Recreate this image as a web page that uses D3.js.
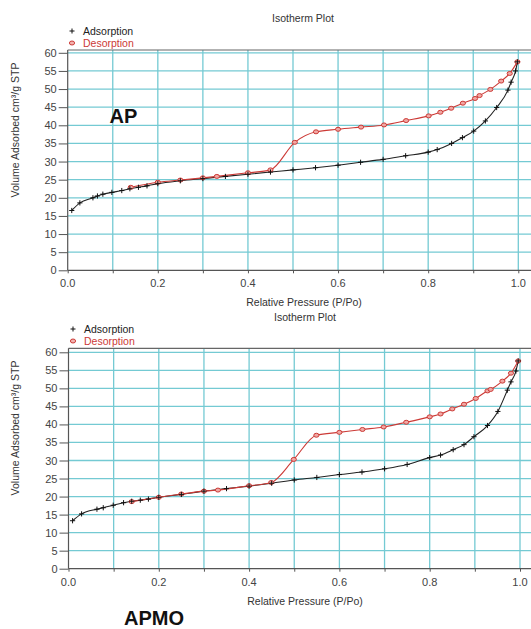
<!DOCTYPE html>
<html><head><meta charset="utf-8">
<script src="https://cdn.jsdelivr.net/npm/d3@7"></script>
<style>body{margin:0;background:#fff}svg{display:block}text{font-family:"Liberation Sans",Arial,sans-serif}</style>
</head><body>
<script>
// ---- data ----
const apAdsX = [0.009,0.027,0.056,0.066,0.078,0.098,0.12,0.138,0.157,0.176,0.2,0.25,0.3,0.35,0.4,0.45,0.5,0.55,0.6,0.65,0.7,0.75,0.8,0.82,0.852,0.876,0.901,0.927,0.952,0.977,0.984,0.994,0.998];
const apAdsY = [16.5,18.6,20.0,20.5,21.0,21.5,22.0,22.5,22.9,23.3,23.9,24.7,25.3,25.9,26.5,27.1,27.7,28.3,29.0,29.8,30.6,31.6,32.6,33.3,35.0,36.6,38.4,41.2,44.9,49.7,51.9,55.0,57.5];
const apDesX = [0.998,0.981,0.962,0.938,0.914,0.904,0.877,0.851,0.827,0.801,0.751,0.702,0.651,0.6,0.551,0.504,0.45,0.4,0.331,0.3,0.25,0.2,0.14];
const apDesY = [57.5,54.3,52.2,49.9,48.2,47.4,46.1,44.7,43.6,42.6,41.3,40.1,39.5,38.9,38.2,35.3,27.7,26.9,25.9,25.5,24.9,24.3,22.9];
const apmoAdsX = [0.009,0.029,0.063,0.077,0.099,0.122,0.14,0.159,0.177,0.2,0.25,0.3,0.35,0.4,0.45,0.5,0.55,0.6,0.65,0.7,0.75,0.8,0.824,0.852,0.876,0.898,0.928,0.951,0.972,0.98,0.991,0.996];
const apmoAdsY = [13.3,15.2,16.5,16.9,17.6,18.3,18.7,19.0,19.3,19.8,20.6,21.5,22.2,22.9,23.7,24.6,25.3,26.1,26.8,27.7,28.9,30.8,31.5,33.0,34.4,36.6,39.7,43.6,49.5,51.8,54.8,57.6];
const apmoDesX = [0.996,0.98,0.961,0.935,0.928,0.902,0.876,0.85,0.824,0.8,0.748,0.698,0.651,0.6,0.549,0.499,0.449,0.4,0.331,0.3,0.25,0.2,0.14];
const apmoDesY = [57.6,54.2,52.0,49.7,49.3,47.2,45.6,44.3,42.9,42.1,40.6,39.3,38.6,37.8,37.0,30.3,23.9,23.0,21.8,21.5,20.7,19.8,18.6];
const yTicks = [0,5,10,15,20,25,30,35,40,45,50,55,60];
const xMajor = [0,0.2,0.4,0.6,0.8,1.0];
const xGrid = [0.1,0.2,0.3,0.4,0.5,0.6,0.7,0.8,0.9,1.0];
const seriesNames = ["Adsorption","Desorption"];
const titleText = "Isotherm Plot";
const xLabel = "Relative Pressure (P/Po)";
const yLabel = "Volume Adsorbed cm³/g STP";

const W = 531, H = 629;
const svg = d3.select("body").append("svg").attr("width", W).attr("height", H);
const GRID = "#74cad3", AXIS = "#555", RED = "#cc3a36";

function zip(xs, ys){ return xs.map((x,i)=>({x, y: ys[i]})); }

function chart(cfg){
  const g = svg.append("g");
  const x = d3.scaleLinear().domain([0,1]).range([cfg.x0, cfg.x1]);
  const y = d3.scaleLinear().domain([0,60]).range([cfg.y0, cfg.y60]);
  const right = W + 5;
  // gridlines
  g.selectAll(".hg").data(yTicks.slice(1)).join("line")
    .attr("x1", cfg.x0).attr("x2", right).attr("y1", d=>y(d)).attr("y2", d=>y(d))
    .attr("stroke", GRID).attr("stroke-width", 1.3);
  g.selectAll(".vg").data(xGrid).join("line")
    .attr("x1", d=>x(d)).attr("x2", d=>x(d)).attr("y1", cfg.top).attr("y2", cfg.y0)
    .attr("stroke", GRID).attr("stroke-width", 1.3);
  // top border
  g.append("line").attr("x1", cfg.x0).attr("x2", right).attr("y1", cfg.top).attr("y2", cfg.top)
    .attr("stroke", "#666").attr("stroke-width", 1.2);
  // y axis
  const ya = d3.axisLeft(y).tickValues(yTicks).tickSize(9).tickPadding(2).tickFormat(d3.format("d"));
  const yg = g.append("g").attr("transform", `translate(${cfg.x0},0)`).call(ya);
  yg.select(".domain").attr("d", `M0,${cfg.y0}V${cfg.top}`).attr("stroke", AXIS).attr("stroke-width", 1.2);
  yg.selectAll(".tick line").attr("stroke", AXIS);
  yg.selectAll(".tick text").attr("font-size", 11).attr("fill", "#444").attr("font-family", "Liberation Sans, Arial");
  // x axis
  const xa = d3.axisBottom(x).tickValues(xGrid.concat([0])).tickSize(3).tickFormat(()=>"");
  const xg = g.append("g").attr("transform", `translate(0,${cfg.y0})`).call(xa);
  xg.select(".domain").attr("d", `M${cfg.x0},0H${right}`).attr("stroke", AXIS).attr("stroke-width", 1.2);
  xg.selectAll(".tick line").attr("stroke", AXIS);
  g.selectAll(".xl").data(xMajor).join("text")
    .attr("x", d=>x(d)).attr("y", cfg.y0 + 17).attr("text-anchor", "middle")
    .attr("font-size", 11).attr("fill", "#444").text(d3.format(".1f"));
  // labels
  g.append("text").attr("x", cfg.xlabX).attr("y", cfg.y0 + 36).attr("text-anchor", "middle")
    .attr("font-size", 10.5).attr("fill", "#333").text(xLabel);
  g.append("text").attr("x", cfg.titleX).attr("y", cfg.titleY).attr("text-anchor", "middle")
    .attr("font-size", 10.5).attr("fill", "#333").text(titleText);
  g.append("text").attr("transform", `translate(19,${cfg.ylabY}) rotate(-90)`).attr("text-anchor", "middle")
    .attr("font-size", 10.5).attr("fill", "#333").text(yLabel);
  // legend
  const lg = g.append("g");
  const cross = (sel, cx, cy, s) => {
    sel.append("path").attr("d", `M${cx-s},${cy}H${cx+s}M${cx},${cy-s}V${cy+s}`).attr("stroke", "#111").attr("stroke-width", 1);
  };
  cross(lg, cfg.legX, cfg.legY - 4, 2.5);
  lg.append("text").attr("x", cfg.legX + 11).attr("y", cfg.legY).attr("font-size", 10.5).attr("fill", "#222").text(seriesNames[0]);
  lg.append("ellipse").attr("cx", cfg.legX).attr("cy", cfg.legY + 12 - 4).attr("rx", 2.6).attr("ry", 2)
    .attr("fill", "#f3b3b0").attr("stroke", RED).attr("stroke-width", 1);
  lg.append("text").attr("x", cfg.legX + 11).attr("y", cfg.legY + 12).attr("font-size", 10.5).attr("fill", RED).text(seriesNames[1]);
  // series
  const line = d3.line().x(d=>x(d.x)).y(d=>y(d.y)).curve(d3.curveMonotoneX);
  const ads = zip(cfg.adsX, cfg.adsY).sort((a,b)=>a.x-b.x);
  const des = zip(cfg.desX, cfg.desY).sort((a,b)=>a.x-b.x);
  g.append("path").datum(ads).attr("d", line).attr("fill", "none").attr("stroke", "#222").attr("stroke-width", 1.1);
  g.append("path").datum(des).attr("d", line).attr("fill", "none").attr("stroke", RED).attr("stroke-width", 1.1);
  g.selectAll(".dm").data(des).join("ellipse")
    .attr("cx", d=>x(d.x)).attr("cy", d=>y(d.y)).attr("rx", 2.6).attr("ry", 2.0)
    .attr("fill", "#f0a8a4").attr("stroke", RED).attr("stroke-width", 1);
  g.selectAll(".am").data(ads).join("path")
    .attr("d", d=>{const cx=x(d.x), cy=y(d.y), s=2.6; return `M${cx-s},${cy}H${cx+s}M${cx},${cy-s}V${cy+s}`;})
    .attr("stroke", "#111").attr("stroke-width", 1);
  // big label
  g.append("text").attr("x", cfg.tagX).attr("y", cfg.tagY).attr("text-anchor", "middle")
    .attr("font-size", 20).attr("font-weight", "bold").attr("fill", "#111").text(cfg.tag);
}

chart({x0:67.7, x1:518.3, y0:270.3, y60:52.8, top:50,
  xlabX:304, titleX:303, titleY:22, ylabY:130, legX:72, legY:35,
  adsX:apAdsX, adsY:apAdsY, desX:apDesX, desY:apDesY, tag:"AP", tagX:123.5, tagY:123});
chart({x0:68.5, x1:520, y0:568.7, y60:352.3, top:348.3,
  xlabX:305, titleX:305, titleY:320.5, ylabY:428, legX:73, legY:333,
  adsX:apmoAdsX, adsY:apmoAdsY, desX:apmoDesX, desY:apmoDesY, tag:"APMO", tagX:154, tagY:625});
</script>
</body></html>
